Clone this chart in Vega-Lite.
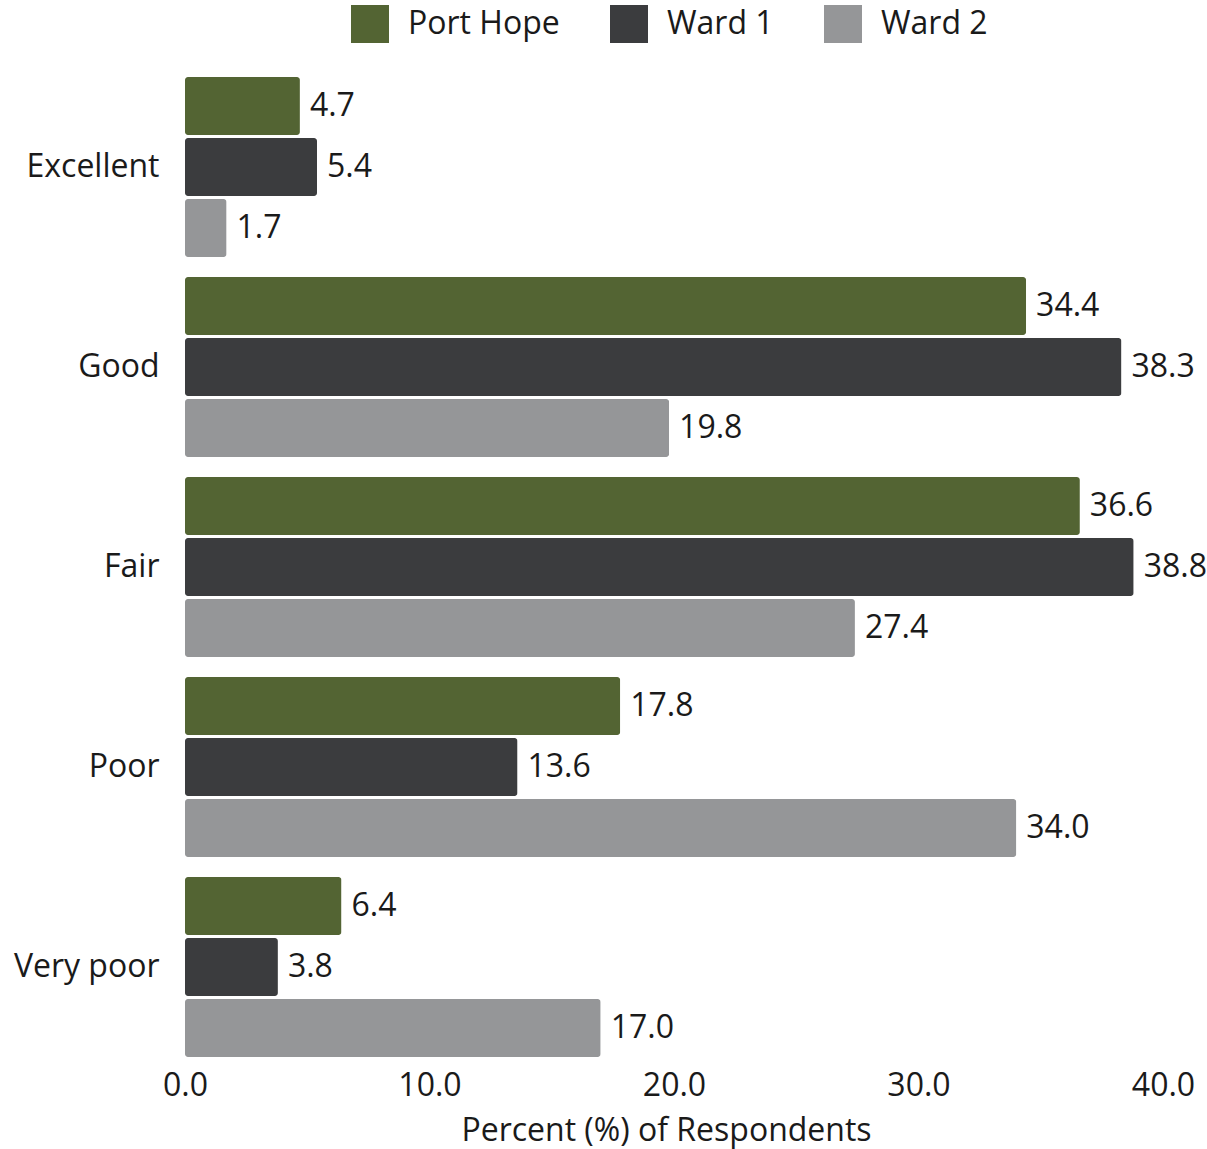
{
  "$schema": "https://vega.github.io/schema/vega-lite/v6.json",
  "width": 978,
  "height": 1000,
  "autosize": "none",
  "padding": {"left": 185, "top": 67, "right": 44, "bottom": 82},
  "background": "white",
  "config": {
    "font": "Open Sans",
    "view": {"stroke": null},
    "axis": {"labelFont": "Open Sans", "titleFont": "Open Sans", "labelColor": "#1a1a1a", "titleColor": "#1a1a1a"}
  },
  "data": {
    "values": [
      {"rating": "Excellent", "area": "Port Hope", "pct": 4.7},
      {"rating": "Excellent", "area": "Ward 1", "pct": 5.4},
      {"rating": "Excellent", "area": "Ward 2", "pct": 1.7},
      {"rating": "Good", "area": "Port Hope", "pct": 34.4},
      {"rating": "Good", "area": "Ward 1", "pct": 38.3},
      {"rating": "Good", "area": "Ward 2", "pct": 19.8},
      {"rating": "Fair", "area": "Port Hope", "pct": 36.6},
      {"rating": "Fair", "area": "Ward 1", "pct": 38.8},
      {"rating": "Fair", "area": "Ward 2", "pct": 27.4},
      {"rating": "Poor", "area": "Port Hope", "pct": 17.8},
      {"rating": "Poor", "area": "Ward 1", "pct": 13.6},
      {"rating": "Poor", "area": "Ward 2", "pct": 34.0},
      {"rating": "Very poor", "area": "Port Hope", "pct": 6.4},
      {"rating": "Very poor", "area": "Ward 1", "pct": 3.8},
      {"rating": "Very poor", "area": "Ward 2", "pct": 17.0}
    ]
  },
  "encoding": {
    "y": {
      "field": "rating", "type": "nominal",
      "sort": ["Excellent", "Good", "Fair", "Poor", "Very poor"],
      "scale": {"paddingInner": 0.1, "paddingOuter": 0.05},
      "axis": {"title": null, "ticks": false, "domain": false, "labelFontSize": 32, "labelPadding": 26, "labelColor": "#1a1a1a"}
    },
    "yOffset": {
      "field": "area", "type": "nominal",
      "sort": ["Port Hope", "Ward 1", "Ward 2"],
      "scale": {"paddingInner": 0.05, "paddingOuter": 0}
    },
    "x": {
      "field": "pct", "type": "quantitative",
      "scale": {"domain": [0, 40], "nice": false},
      "axis": {
        "title": "Percent (%) of Respondents",
        "titleFontSize": 32, "titleFontWeight": "normal", "titlePadding": 14, "titleX": 481,
        "labelFontSize": 32, "labelPadding": 3, "format": ".1f",
        "values": [0, 10, 20, 30, 40],
        "grid": false, "ticks": false, "domain": false, "labelFlush": false
      }
    }
  },
  "layer": [
    {
      "mark": {"type": "bar", "cornerRadius": 3},
      "encoding": {
        "color": {
          "field": "area", "type": "nominal",
          "sort": ["Port Hope", "Ward 1", "Ward 2"],
          "scale": {"domain": ["Port Hope", "Ward 1", "Ward 2"], "range": ["#536433", "#3b3c3e", "#959698"]},
          "legend": {
            "title": null, "orient": "none", "direction": "horizontal",
            "legendX": 166, "legendY": -62,
            "symbolType": "square", "symbolSize": 1444, "symbolStrokeWidth": 0, "symbolOpacity": 1,
            "labelFontSize": 32, "labelOffset": 19, "columnPadding": 50, "labelColor": "#1a1a1a"
          }
        }
      }
    },
    {
      "mark": {"type": "text", "align": "left", "baseline": "middle", "dx": 10, "fontSize": 32, "color": "#1a1a1a"},
      "encoding": {
        "text": {"field": "pct", "type": "quantitative", "format": ".1f"}
      }
    }
  ]
}
